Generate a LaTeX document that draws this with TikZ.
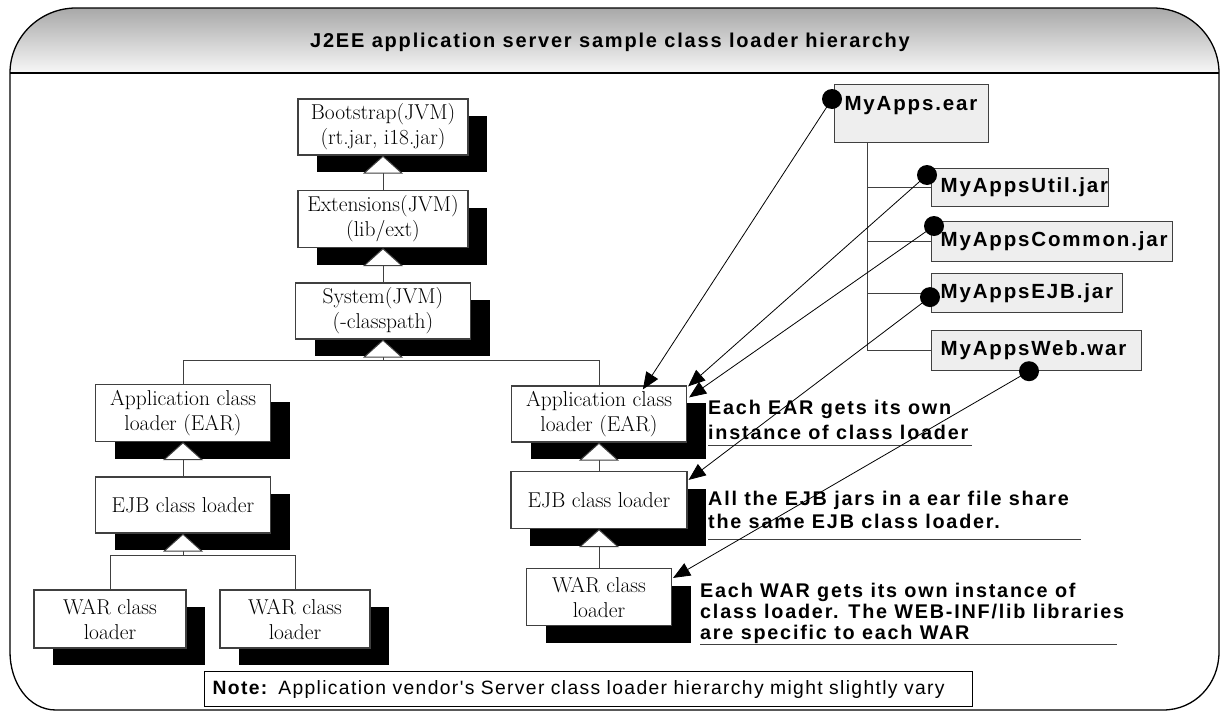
\documentclass[tikz,border=0pt]{standalone}
\usepackage{fontspec}
\usetikzlibrary{arrows.meta,calc,shadows}
\newfontfamily\labelfont[LetterSpace=9]{Liberation Sans}
\newfontfamily\notefont[LetterSpace=7]{Liberation Sans}
\definecolor{jarfill}{RGB}{238,238,238}
\definecolor{linegray}{RGB}{64,64,64}

\tikzset{
  loader/.style={draw=linegray, line width=1.2pt, fill=white, align=center, inner sep=0pt,
    font=\fontsize{21.5}{25}\selectfont,
    drop shadow={shadow xshift=19pt, shadow yshift=-17pt, fill=black, opacity=1}},
  jar/.style={draw=linegray, line width=1.2pt, fill=jarfill, anchor=north west, align=left,
    inner xsep=9pt, font=\labelfont\bfseries\fontsize{20.5}{25}\selectfont},
  parent/.style={draw=linegray, line width=1pt, -{Triangle[fill=white, length=18pt, width=40pt]}},
  tree/.style={draw=linegray, line width=1pt},
  ref/.style={line width=0.8pt, -{Triangle[length=17pt, width=14pt]}},
  comment/.style={anchor=north west, align=left, inner sep=0pt,
    font=\labelfont\bfseries\fontsize{19.8}{24.5}\selectfont},
}

\begin{document}
\begin{tikzpicture}[x=1pt, y=-1pt]
  \useasboundingbox (0,0) rectangle (1221,712);
  \shade[top color=black!34, bottom color=black!3] (10,73) .. controls (10,37) and (40,8) .. (76,8)
    -- (1153,8) .. controls (1189,8) and (1219,37) .. (1219,73) -- cycle;
  \draw[line width=1.3pt] (10,73) .. controls (10,37) and (40,8) .. (76,8)
    -- (1153,8) .. controls (1189,8) and (1219,37) .. (1219,73) -- (1219,652)
    .. controls (1219,684) and (1195,710) .. (1163,710) -- (56,710)
    .. controls (28,710) and (10,682) .. (10,652) -- cycle;
  \draw[line width=1.2pt] (10,73) -- (1219,73);
  \node[font=\labelfont\bfseries\fontsize{20}{23}\selectfont, anchor=base] (title) at (610,47)
    {J2EE application server sample class loader hierarchy};

  \node[loader, minimum width=170pt, minimum height=56pt] (boot) at (383,127) {Bootstrap(JVM)\\(rt.jar, i18.jar)};
  \node[loader, minimum width=170pt, minimum height=57pt] (ext) at (383,219) {Extensions(JVM)\\(lib/ext)};
  \node[loader, minimum width=175pt, minimum height=56pt] (sys) at (383,311) {System(JVM)\\(-classpath)};
  \node[loader, minimum width=175pt, minimum height=57pt] (appL) at (183,413) {Application class\\loader (EAR)};
  \node[loader, minimum width=175pt, minimum height=56pt] (ejbL) at (183,505) {EJB class loader};
  \node[loader, minimum width=152pt, minimum height=58pt] (warL) at (110,619) {WAR class\\loader};
  \node[loader, minimum width=150pt, minimum height=58pt] (warM) at (295,619) {WAR class\\loader};
  \node[loader, minimum width=175pt, minimum height=56pt] (appR) at (599,414) {Application class\\loader (EAR)};
  \node[loader, minimum width=176pt, minimum height=57pt] (ejbR) at (599,500) {EJB class loader};
  \node[loader, minimum width=145pt, minimum height=57pt] (warR) at (599,597) {WAR class\\loader};

  \coordinate (forkSys) at ($(sys.south)+(0,21)$);
  \coordinate (forkEjb) at ($(ejbL.south)+(0,22)$);
  \draw[parent] (ext.north) -- (boot.south);
  \draw[parent] (sys.north) -- (ext.south);
  \draw[parent] (forkSys) -- (sys.south);
  \draw[tree] (appL.north) |- (forkSys) -| (appR.north);
  \draw[parent] (ejbL.north) -- (appL.south);
  \draw[parent] (forkEjb) -- (ejbL.south);
  \draw[tree] (warL.north) |- (forkEjb) -| (warM.north);
  \draw[parent] (ejbR.north) -- (appR.south);
  \draw[parent] (warR.north) -- (ejbR.south);

  \node[jar, text width=136pt, minimum height=58pt,
    label={[anchor=north west, xshift=7pt, yshift=-9pt, font=\labelfont\bfseries\fontsize{20.5}{25}\selectfont]north west:MyApps.ear}] (ear) at (834,84) {};
  \node[jar, text width=159pt, minimum height=38pt] (util) at (931,168) {MyAppsUtil.jar};
  \node[jar, text width=223pt, minimum height=40pt] (common) at (931,221) {MyAppsCommon.jar};
  \node[jar, text width=173pt, minimum height=39pt] (ejbjar) at (931,273) {MyAppsEJB.jar};
  \node[jar, text width=192pt, minimum height=40pt] (web) at (931,330) {MyAppsWeb.war};
  \coordinate (trunk) at ($(ear.south west)+(33,0)$);
  \draw[tree] (trunk) |- (web.west);
  \foreach \j in {util,common,ejbjar}
    \draw[tree] (trunk |- \j.west) -- (\j.west);

  \node[comment] (noteEar) at (708,400) {Each EAR gets its own\\instance of class loader};
  \node[comment, font=\labelfont\bfseries\fontsize{19.8}{23}\selectfont] (noteEjb) at (708,491)
    {All the EJB jars in a ear file share\\the same EJB class loader.};
  \node[comment, font=\labelfont\bfseries\fontsize{19.8}{21}\selectfont] (noteWar) at (700,583)
    {Each WAR gets its own instance of\\class loader. The WEB-INF/lib libraries\\are specific to each WAR};
  \draw[tree] ($(noteEar.north west)+(0,45)$) -- +(264,0);
  \draw[tree] ($(noteEjb.north west)+(0,48)$) -- +(373,0);
  \draw[tree] ($(noteWar.north west)+(0,61)$) -- +(417,0);

  \coordinate (dEar) at ($(ear.north west)+(-2,15)$);
  \coordinate (dUtil) at ($(util.north west)+(-4,7)$);
  \coordinate (dCommon) at ($(common.north west)+(3,5)$);
  \coordinate (dEjb) at ($(ejbjar.west)+(-1,4)$);
  \coordinate (dWeb) at ($(web.south west)+(98,0)$);
  \coordinate (tEar) at ($(appR.north west)+(132,4)$);
  \coordinate (tUtil) at ($(appR.north east)+(1,1)$);
  \coordinate (tCommon) at ($(appR.north east)+(2,12)$);
  \coordinate (tEjb) at ($(ejbR.north east)+(1,9)$);
  \coordinate (tWeb) at ($(warR.north east)+(1,10)$);
  \draw[ref] (dEar) -- (tEar);
  \draw[ref] (dUtil) -- (tUtil);
  \draw[ref] (dCommon) -- (tCommon);
  \draw[ref] (dEjb) -- (tEjb);
  \draw[ref] (dWeb) -- (tWeb);
  \foreach \d in {dEar,dUtil,dCommon,dEjb,dWeb}
    \fill (\d) circle[radius=10pt];

  \node[draw, line width=1.2pt, anchor=north west, text width=752pt, minimum height=35pt,
    inner xsep=8pt, align=left, font=\notefont\fontsize{19.3}{23}\selectfont] (note) at (204,671)
    {\textbf{Note:} Application vendor's Server class loader hierarchy might slightly vary};
\end{tikzpicture}
\end{document}
